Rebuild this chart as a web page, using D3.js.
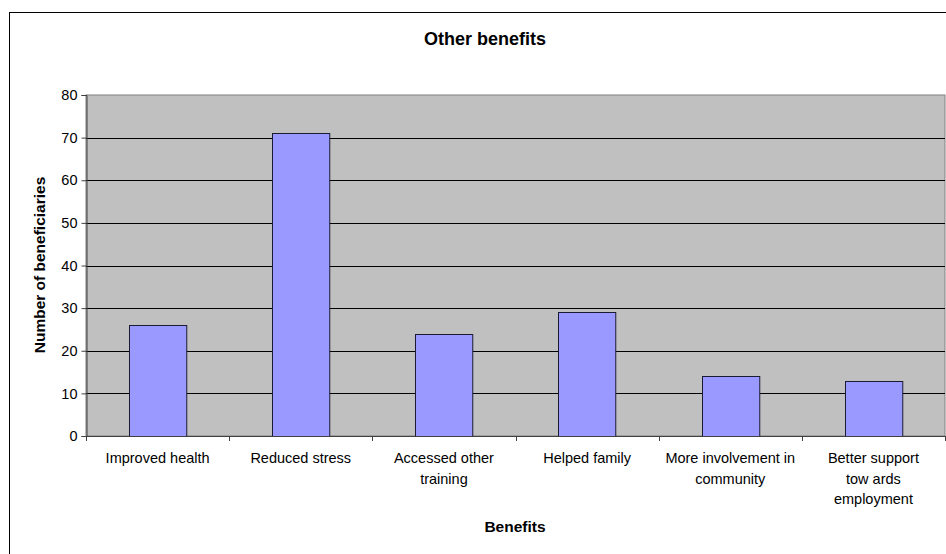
<!DOCTYPE html>
<html lang="en">
<head>
    <meta charset="UTF-8">
    <title>Other benefits</title>
    <script src="https://d3js.org/d3.v7.min.js"></script>
    <style>
        body { margin: 0; background: #fff; }
        text { font-family: "Liberation Sans", Arial, sans-serif; fill: #000; }
    </style>
</head>
<body>
<script>
    const categories = [
        ["Improved health"],
        ["Reduced stress"],
        ["Accessed other", "training"],
        ["Helped family"],
        ["More involvement in", "community"],
        ["Better support", "tow ards", "employment"]
    ];
    const values = [26, 71, 24, 29, 14, 13];
    const yTicks = [0, 10, 20, 30, 40, 50, 60, 70, 80];

    const width = 946, height = 554;
    const plot = {left: 86, right: 945, top: 95, bottom: 436};

    const svg = d3.select("body").append("svg").attr("width", width).attr("height", height);

    // outer chart frame (runs off the picture on right and bottom)
    svg.append("rect").attr("x", 9.5).attr("y", 12.5).attr("width", 1000).attr("height", 1000)
        .attr("fill", "#fff").attr("stroke", "#000");

    const x = d3.scaleBand().domain(d3.range(categories.length))
        .range([plot.left, plot.right]).paddingInner(0.6).paddingOuter(0.3);
    const y = d3.scaleLinear().domain([0, 80]).range([plot.bottom, plot.top]);

    svg.append("rect").attr("x", plot.left).attr("y", plot.top)
        .attr("width", plot.right - plot.left).attr("height", plot.bottom - plot.top)
        .attr("fill", "#c0c0c0").attr("stroke", "#808080");

    // gridlines
    svg.append("g").selectAll("line").data(yTicks.slice(1, -1)).join("line")
        .attr("x1", plot.left).attr("x2", plot.right)
        .attr("y1", d => Math.round(y(d)) + 0.5).attr("y2", d => Math.round(y(d)) + 0.5)
        .attr("stroke", "#000").attr("stroke-width", 1);

    // bars
    svg.append("g").selectAll("rect").data(values).join("rect")
        .attr("x", (d, i) => Math.round(x(i)) + 0.5)
        .attr("y", d => Math.round(y(d)) + 0.5)
        .attr("width", x.bandwidth())
        .attr("height", d => y(0) - Math.round(y(d)))
        .attr("fill", "#9999ff").attr("stroke", "#1a1a33").attr("stroke-width", 1);

    // y axis
    const yAxis = svg.append("g").attr("transform", `translate(${plot.left + 0.5},0)`)
        .call(d3.axisLeft(y).tickValues(yTicks).tickSize(5).tickPadding(4));
    yAxis.select(".domain").attr("stroke", "#404040");
    yAxis.selectAll(".tick line").attr("stroke", "#404040");
    yAxis.selectAll("text").style("font-size", "14.5px");

    // x axis line and ticks at category boundaries
    const xg = svg.append("g");
    xg.append("line").attr("x1", plot.left).attr("x2", plot.right)
        .attr("y1", plot.bottom + 0.5).attr("y2", plot.bottom + 0.5).attr("stroke", "#404040");
    xg.selectAll("line.tk").data(d3.range(categories.length + 1)).join("line").attr("class", "tk")
        .attr("x1", i => Math.round(plot.left + i * x.step()) + 0.5)
        .attr("x2", i => Math.round(plot.left + i * x.step()) + 0.5)
        .attr("y1", plot.bottom).attr("y2", plot.bottom + 5).attr("stroke", "#404040");

    const lbl = xg.selectAll("text").data(categories).join("text")
        .attr("text-anchor", "middle").style("font-size", "14.5px")
        .attr("transform", (d, i) => `translate(${x(i) + x.bandwidth() / 2},463)`);
    lbl.selectAll("tspan").data(d => d).join("tspan")
        .attr("x", 0).attr("dy", (d, j) => j === 0 ? 0 : 20.7).text(d => d);

    // titles
    svg.append("text").attr("x", 485).attr("y", 45).attr("text-anchor", "middle")
        .style("font-size", "18px").style("font-weight", "bold").text("Other benefits");
    svg.append("text").attr("x", 515).attr("y", 532).attr("text-anchor", "middle")
        .style("font-size", "15.5px").style("font-weight", "bold").text("Benefits");
    svg.append("text").attr("transform", "translate(45,265) rotate(-90)").attr("text-anchor", "middle")
        .style("font-size", "15.5px").style("font-weight", "bold").text("Number of beneficiaries");
</script>
</body>
</html>
